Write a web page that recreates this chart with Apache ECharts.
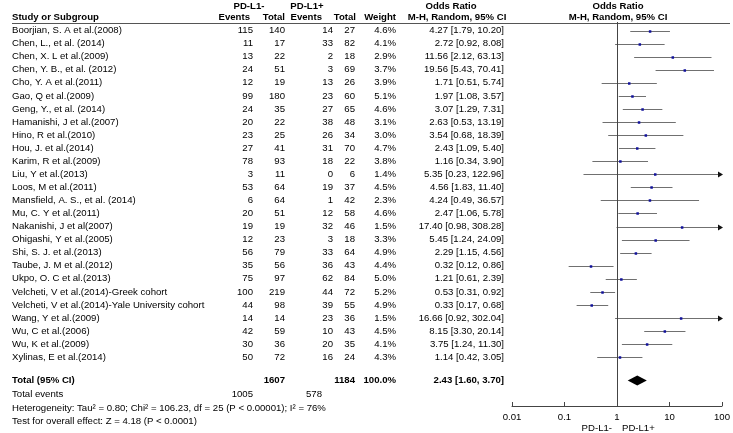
<!DOCTYPE html>
<html><head><meta charset="utf-8">
<script src="https://cdn.jsdelivr.net/npm/echarts@6/dist/echarts.min.js"></script>
<style>html,body{margin:0;padding:0;background:#fff}#c{width:733px;height:433px}</style>
</head><body><div id="c"></div>
<script>
// ---------------- data ----------------
const studies = [
  "Boorjian, S. A et al.(2008)", "Chen, L., et al. (2014)", "Chen, X. L et al.(2009)",
  "Chen, Y. B., et al. (2012)", "Cho, Y. A et al.(2011)", "Gao, Q et al.(2009)",
  "Geng, Y., et al. (2014)", "Hamanishi, J et al.(2007)", "Hino, R et al.(2010)",
  "Hou, J. et al.(2014)", "Karim, R et al.(2009)", "Liu, Y et al.(2013)",
  "Loos, M et al.(2011)", "Mansfield, A. S., et al. (2014)", "Mu, C. Y et al.(2011)",
  "Nakanishi, J et al(2007)", "Ohigashi, Y et al.(2005)", "Shi, S. J. et al.(2013)",
  "Taube, J. M et al.(2012)", "Ukpo, O. C et al.(2013)", "Velcheti, V et al.(2014)-Greek cohort",
  "Velcheti, V et al.(2014)-Yale University cohort", "Wang, Y et al.(2009)", "Wu, C et al.(2006)",
  "Wu, K et al.(2009)", "Xylinas, E et al.(2014)"
];
const eventsNeg = [115,11,13,24,12,99,24,20,23,27,78,3,53,6,20,19,12,56,35,75,100,44,14,42,30,50];
const totalNeg  = [140,17,22,51,19,180,35,22,25,41,93,11,64,64,51,19,23,79,56,97,219,98,14,59,36,72];
const eventsPos = [14,33,2,3,13,23,27,38,26,31,18,0,19,1,12,32,3,33,36,62,44,39,23,10,20,16];
const totalPos  = [27,82,18,69,26,60,65,48,34,70,22,6,37,42,58,46,18,64,43,84,72,55,36,43,35,24];
const weights   = [4.6,4.1,2.9,3.7,3.9,5.1,4.6,3.1,3.0,4.7,3.8,1.4,4.5,2.3,4.6,1.5,3.3,4.9,4.4,5.0,5.2,4.9,1.5,4.5,4.1,4.3];
const oddsRatio = [4.27,2.72,11.56,19.56,1.71,1.97,3.07,2.63,3.54,2.43,1.16,5.35,4.56,4.24,2.47,17.40,5.45,2.29,0.32,1.21,0.53,0.33,16.66,8.15,3.75,1.14];
const ciLow     = [1.79,0.92,2.12,5.43,0.51,1.08,1.29,0.53,0.68,1.09,0.34,0.23,1.83,0.49,1.06,0.98,1.24,1.15,0.12,0.61,0.31,0.17,0.92,3.30,1.24,0.42];
const ciHigh    = [10.20,8.08,63.13,70.41,5.74,3.57,7.31,13.19,18.39,5.40,3.90,122.96,11.40,36.57,5.78,308.28,24.09,4.56,0.86,2.39,0.92,0.68,302.04,20.14,11.30,3.05];

const pooledTotalNeg = 1607, pooledTotalPos = 1184;
const pooledEventsNeg = 1005, pooledEventsPos = 578;
const pooledWeight = 100.0;
const pooledOR = [2.43, 1.60, 3.70]; // estimate, low, high
const heterogeneityText = "Heterogeneity: Tau\u00b2 = 0.80; Chi\u00b2 = 106.23, df = 25 (P < 0.00001); I\u00b2 = 76%";
const overallText = "Test for overall effect: Z = 4.18 (P < 0.0001)";
const xTicks = [0.01, 0.1, 1, 10, 100];
const sideLabels = ["PD-L1-", "PD-L1+"];

// ---------------- layout ----------------
const W = 733, H = 433;
const ROW0 = 30.5, STEP = 13.07;
const rowOf = y => (y - ROW0) / STEP;
const PLOT = { left: 512, right: 722, top: 22, bottom: 406 };
const FONT = '"Liberation Sans", Arial, Helvetica, sans-serif', FS = 9.6;
const TXT = '#000';
const ROW_H1 = rowOf(6), ROW_H2 = rowOf(17.3), ROW_LINE = rowOf(22.5);
const ROW_TOTAL = rowOf(380.5), ROW_EVENTS = rowOf(394.3), ROW_HET = rowOf(408), ROW_TEST = rowOf(421.2);
const ROW_SIDE = rowOf(428);
const COL = { study: 12, evN: 253, totN: 285, evP: 333, totP: 355, w: 396, or: 504 };

const fmt2 = v => v.toFixed(2);
const texts = [];
function T(t, x, row, align, bold) { texts.push({ t: String(t), x, row, align: align || 'right', bold: !!bold }); }

// headers
T("PD-L1-", 249, ROW_H1, 'center', true);
T("PD-L1+", 307, ROW_H1, 'center', true);
T("Odds Ratio", 451, ROW_H1, 'center', true);
T("Odds Ratio", 618, ROW_H1, 'center', true);
T("Study or Subgroup", COL.study, ROW_H2, 'left', true);
T("Events", 250, ROW_H2, 'right', true);
T("Total", 285, ROW_H2, 'right', true);
T("Events", 322, ROW_H2, 'right', true);
T("Total", 356, ROW_H2, 'right', true);
T("Weight", 396, ROW_H2, 'right', true);
T("M-H, Random, 95% CI", 457, ROW_H2, 'center', true);
T("M-H, Random, 95% CI", 618, ROW_H2, 'center', true);
// body
studies.forEach((s, i) => {
  T(s, COL.study, i, 'left');
  T(eventsNeg[i], COL.evN, i);
  T(totalNeg[i], COL.totN, i);
  T(eventsPos[i], COL.evP, i);
  T(totalPos[i], COL.totP, i);
  T(weights[i].toFixed(1) + "%", COL.w, i);
  T(fmt2(oddsRatio[i]) + " [" + fmt2(ciLow[i]) + ", " + fmt2(ciHigh[i]) + "]", COL.or, i);
});
// totals
T("Total (95% CI)", COL.study, ROW_TOTAL, 'left', true);
T(pooledTotalNeg, COL.totN, ROW_TOTAL, 'right', true);
T(pooledTotalPos, COL.totP, ROW_TOTAL, 'right', true);
T(pooledWeight.toFixed(1) + "%", COL.w, ROW_TOTAL, 'right', true);
T(fmt2(pooledOR[0]) + " [" + fmt2(pooledOR[1]) + ", " + fmt2(pooledOR[2]) + "]", COL.or, ROW_TOTAL, 'right', true);
T("Total events", COL.study, ROW_EVENTS, 'left');
T(pooledEventsNeg, COL.evN, ROW_EVENTS);
T(pooledEventsPos, 322, ROW_EVENTS);
T(heterogeneityText, COL.study, ROW_HET, 'left');
T(overallText, COL.study, ROW_TEST, 'left');

const chart = echarts.init(document.getElementById('c'), null, { renderer: 'canvas' });
const crisp = v => Math.round(v) + 0.5;

chart.setOption({
  animation: false,
  backgroundColor: '#fff',
  grid: [
    { left: 0, top: 0, width: W, height: H },
    { left: PLOT.left, top: PLOT.top, width: PLOT.right - PLOT.left, height: PLOT.bottom - PLOT.top }
  ],
  xAxis: [
    { gridIndex: 0, type: 'value', min: 0, max: W, show: false },
    { gridIndex: 1, type: 'log', logBase: 10, min: xTicks[0], max: xTicks[xTicks.length - 1],
      axisLine: { show: true, onZero: false, lineStyle: { color: '#444', width: 1 } },
      axisTick: { show: true, inside: true, length: 4, lineStyle: { color: '#444' } },
      minorTick: { show: false },
      splitLine: { show: false },
      axisLabel: { color: TXT, fontSize: FS, fontFamily: FONT, margin: 6,
        formatter: v => String(Number(Number(v).toPrecision(2))) } }
  ],
  yAxis: [
    { gridIndex: 0, type: 'value', inverse: true, min: rowOf(0), max: rowOf(H), show: false },
    { gridIndex: 1, type: 'value', inverse: true, min: rowOf(PLOT.top), max: rowOf(PLOT.bottom), show: false }
  ],
  series: [
    { // table text
      type: 'custom', xAxisIndex: 0, yAxisIndex: 0, silent: true,
      data: texts.map((d, i) => [d.x, d.row, i]),
      renderItem: (params, api) => {
        const d = texts[api.value(2)];
        const p = api.coord([api.value(0), api.value(1)]);
        return { type: 'text', x: p[0], y: p[1],
          style: { text: d.t, fill: TXT, fontSize: FS, fontFamily: FONT, fontWeight: d.bold ? 'bold' : 'normal',
            align: d.align, verticalAlign: 'middle' } };
      }
    },
    { // header rule
      type: 'custom', xAxisIndex: 0, yAxisIndex: 0, silent: true,
      data: [[COL.study, 730, ROW_LINE]],
      renderItem: (params, api) => {
        const a = api.coord([api.value(0), api.value(2)]), b = api.coord([api.value(1), api.value(2)]);
        return { type: 'line', shape: { x1: a[0], y1: crisp(a[1]), x2: b[0], y2: crisp(b[1]) },
          style: { stroke: '#555', lineWidth: 1.2 } };
      }
    },
    { // study CIs
      type: 'custom', xAxisIndex: 1, yAxisIndex: 1, silent: true, clip: false,
      data: studies.map((s, i) => [oddsRatio[i], ciLow[i], ciHigh[i], i]),
      renderItem: (params, api) => {
        const est = api.value(0), lo = api.value(1), hi = api.value(2), r = api.value(3);
        const xmax = xTicks[xTicks.length - 1];
        const pL = api.coord([lo, r]), pH = api.coord([Math.min(hi, xmax), r]), pE = api.coord([est, r]);
        const y = crisp(pE[1]);
        const ch = [
          { type: 'line', shape: { x1: pL[0], y1: y, x2: pH[0], y2: y }, style: { stroke: '#707070', lineWidth: 1 } },
          { type: 'rect', shape: { x: pE[0] - 1.25, y: y - 1.25, width: 2.5, height: 2.5 }, style: { fill: '#10109a' } }
        ];
        if (hi > xmax) {
          ch.push({ type: 'polygon', shape: { points: [[pH[0] - 4, y - 3], [pH[0] + 1, y], [pH[0] - 4, y + 3]] },
            style: { fill: '#111' } });
        }
        return { type: 'group', children: ch };
      },
      markLine: {
        silent: true, symbol: 'none', label: { show: false },
        lineStyle: { color: '#444', width: 1, type: 'solid' },
        data: [{ xAxis: 1 }]
      }
    },
    { // pooled diamond
      type: 'custom', xAxisIndex: 1, yAxisIndex: 1, silent: true, clip: false,
      data: [[pooledOR[0], pooledOR[1], pooledOR[2], ROW_TOTAL]],
      renderItem: (params, api) => {
        const r = api.value(3);
        const pE = api.coord([api.value(0), r]), pL = api.coord([api.value(1), r]), pH = api.coord([api.value(2), r]);
        const h = 5;
        return { type: 'polygon', shape: { points: [[pL[0], pE[1]], [pE[0], pE[1] - h], [pH[0], pE[1]], [pE[0], pE[1] + h]] },
          style: { fill: '#000' } };
      }
    },
    { // favours labels
      type: 'custom', xAxisIndex: 1, yAxisIndex: 1, silent: true, clip: false,
      data: [[1, ROW_SIDE]],
      renderItem: (params, api) => {
        const p = api.coord([api.value(0), api.value(1)]);
        return { type: 'group', children: [
          { type: 'text', x: p[0] - 5, y: p[1], style: { text: sideLabels[0], fill: TXT, fontSize: FS, fontFamily: FONT, align: 'right', verticalAlign: 'middle' } },
          { type: 'text', x: p[0] + 5, y: p[1], style: { text: sideLabels[1], fill: TXT, fontSize: FS, fontFamily: FONT, align: 'left', verticalAlign: 'middle' } }
        ] };
      }
    }
  ]
});
</script></body></html>
